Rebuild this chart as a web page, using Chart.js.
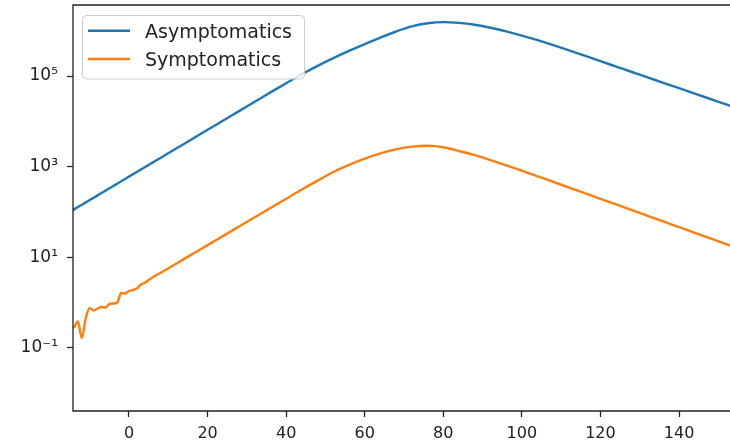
<!DOCTYPE html>
<html><head><meta charset="utf-8">
<script src="https://cdn.jsdelivr.net/npm/chart.js@4.4.1/dist/chart.umd.min.js"></script>
<style>html,body{margin:0;padding:0;background:#fff;overflow:hidden}canvas{display:block}</style>
</head><body>
<canvas id="c" width="730" height="446"></canvas>
<script>
// ---- data ----
const days = [-15,-14,-13,-12,-11,-10,-9,-8,-7,-6,-5,-4,-3,-2,-1,0,1,2,3,4,5,6,7,
  8,12,16,20,24,28,32,36,40,44,48,52,56,60,64,68,72,76,80,84,88,92,96,100,104,108,112,116,120,124,128,132,136,140,144,148,152,156];
const asymptomatics = [101.3,114.1,128.5,144.7,163.0,183.5,206.7,232.8,262.1,295.3,332.6,374.6,421.8,475.1,535.1,602.6,678.6,764.2,860.8,969.4,1092,1229,1385,
  1560,2509,4037,6494,10450,16810,27050,43520,69400,109100,167200,248400,358100,505600,703700,959200,1243000,1455000,1546000,1485000,1348000,1163000,964100,778800,616600,480700,369200,280500,212200,161300,122600,93200,70830,53840,40930,31110,23640,17970];
const symptomatics = [0.276,0.290,0.384,0.166,0.459,0.762,0.671,0.743,0.802,0.782,0.934,0.957,1.01,1.63,1.59,1.81,1.90,2.05,2.52,2.72,3.16,3.59,4.07,
  4.52,7.24,11.60,18.58,29.76,47.66,76.33,122.3,195.7,313.6,492.0,762.7,1100,1507,1962,2404,2773,2901,2689,2217,1791,1396,1072,815.0,613.3,461.3,345.4,259.8,194.5,146.4,109.6,82.45,61.72,46.44,34.76,26.16,19.58,14.73];
const seriesNames = ['Asymptomatics','Symptomatics'];
const xTicks = [0,20,40,60,80,100,120,140];
const yTicks = [0.1,10,1000,100000];
const yTickLabels = ['10\u207B\u00B9','10\u00B9','10\u00B3','10\u2075'];
const xRange = [-14.25, 152.97];
const yRange = [0.00407, 3.686e6];

const FONT = 'DejaVu Sans';
const series = [asymptomatics, symptomatics];
const colors = ['#1f77b4', '#ff7f0e'];

const framePlugin = {
  id: 'frame',
  afterDatasetsDraw(chart) {
    const {ctx, chartArea: a} = chart;
    ctx.save();
    ctx.strokeStyle = '#222';
    ctx.lineWidth = 1.3;
    ctx.beginPath();
    ctx.moveTo(a.right + 2, a.top);
    ctx.lineTo(a.left, a.top);
    ctx.lineTo(a.left, a.bottom);
    ctx.lineTo(a.right + 2, a.bottom);
    ctx.stroke();
    ctx.restore();
  },
  afterDraw(chart) {
    const {ctx, chartArea: a} = chart;
    ctx.save();
    const bx = a.left + 9.5, by = a.top + 10.5, bw = 222, bh = 63.5;
    ctx.beginPath();
    ctx.roundRect(bx, by, bw, bh, 4);
    ctx.fillStyle = 'rgba(255,255,255,0.8)';
    ctx.fill();
    ctx.strokeStyle = '#cccccc';
    ctx.lineWidth = 1;
    ctx.stroke();
    chart.data.datasets.forEach((ds, i) => {
      const ly = a.top + 25.7 + i * 28.3;
      ctx.beginPath();
      ctx.strokeStyle = ds.borderColor;
      ctx.lineWidth = 2.4;
      ctx.moveTo(bx + 5.5, ly);
      ctx.lineTo(bx + 47.5, ly);
      ctx.stroke();
      ctx.fillStyle = '#222';
      ctx.font = '19px "' + FONT + '"';
      ctx.textBaseline = 'alphabetic';
      ctx.textAlign = 'left';
      ctx.fillText(ds.label, bx + 62.5, a.top + 33 + i * 28);
    });
    ctx.restore();
  }
};

new Chart(document.getElementById('c'), {
  type: 'line',
  data: {
    datasets: series.map((s, k) => ({
      label: seriesNames[k],
      data: days.map((d, i) => ({x: d, y: s[i]})),
      borderColor: colors[k],
      backgroundColor: colors[k],
      borderWidth: 2.4,
      pointRadius: 0,
      cubicInterpolationMode: 'monotone',
      clip: 0,
      fill: false
    }))
  },
  options: {
    responsive: false,
    animation: false,
    events: [],
    layout: {padding: {top: 5, left: 0, right: 0, bottom: 0}},
    plugins: {legend: {display: false}, tooltip: {enabled: false}},
    scales: {
      x: {
        type: 'linear', bounds: 'data', min: xRange[0], max: xRange[1],
        afterBuildTicks: s => { s.ticks = xTicks.map(v => ({value: v})); },
        afterFit: s => { s.height = 35; s.paddingLeft = 0; s.paddingRight = 0; },
        grid: {drawOnChartArea: false, drawTicks: true, tickLength: 6, tickColor: '#222', tickWidth: 1.3},
        border: {display: false},
        ticks: {color: '#222', font: {family: FONT, size: 16}, padding: 7, maxRotation: 0, autoSkip: false,
          callback: v => String(v)}
      },
      y: {
        type: 'logarithmic', bounds: 'data', min: yRange[0], max: yRange[1],
        afterBuildTicks: s => { s.ticks = yTicks.map(v => ({value: v})); },
        afterFit: s => { s.width = 73; s.paddingTop = 0; s.paddingBottom = 0; },
        grid: {drawOnChartArea: false, drawTicks: true, tickLength: 6, tickColor: '#222', tickWidth: 1.3},
        border: {display: false},
        ticks: {color: '#222', font: {family: FONT, size: 17}, padding: 9, autoSkip: false,
          callback: v => { const i = yTicks.indexOf(v); return i >= 0 ? yTickLabels[i] : ''; }}
      }
    }
  },
  plugins: [framePlugin]
});
</script>
</body></html>
